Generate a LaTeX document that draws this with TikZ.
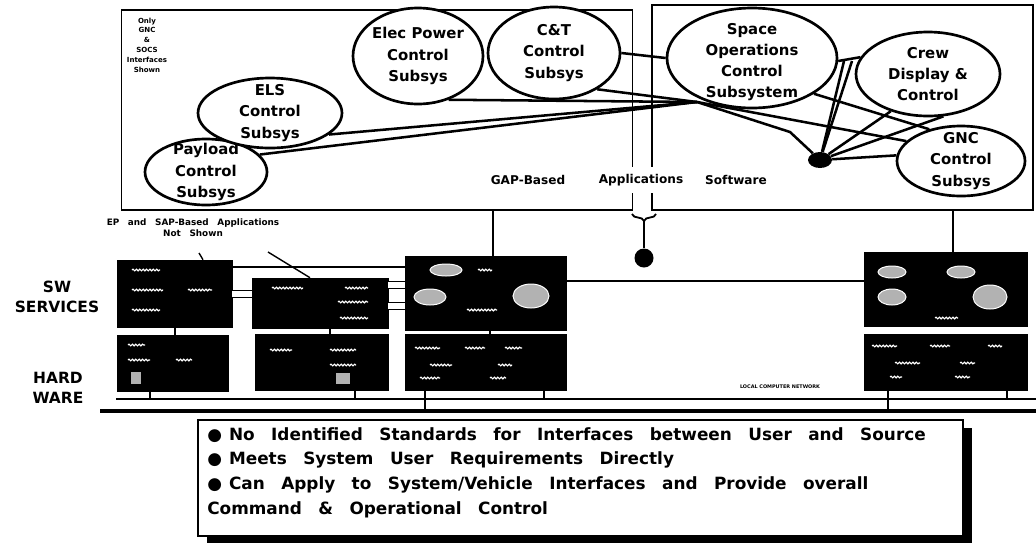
\documentclass[tikz,border=0pt]{standalone}
\usepackage{fontspec}
\setmainfont{DejaVu Sans}
\newfontfamily\notefont[WordSpace=2.8]{DejaVu Sans}
\usetikzlibrary{shapes.geometric,decorations.pathmorphing,decorations.pathreplacing}
\def\px{0.025cm}

\begin{document}
\begin{tikzpicture}[x=0.025cm, y=-0.025cm,
	subsys/.style={ellipse, draw, line width=1.9pt, fill=white, inner sep=0pt},
	subtext/.style={align=center, inner sep=0pt, font=\bfseries\fontsize{10.6}{15}\selectfont},
	link/.style={line width=1.8pt},
	frame/.style={draw, line width=1.3pt, inner sep=0pt},
	darkbox/.style={fill=black, draw=black, inner sep=0pt},
	pipe/.style={line width=0.5pt, double=white, double distance=4pt},
	wig/.style={white, line width=0.8pt, decorate, decoration={snake, amplitude=0.6pt, segment length=2.4pt}},
	blob/.style={fill=gray!60, draw=white, line width=0.7pt},
	applbl/.style={font=\bfseries\fontsize{8.6}{10}\selectfont, inner sep=1pt},
	sidelbl/.style={font=\bfseries\fontsize{11}{14}\selectfont, align=center}]
	\useasboundingbox (0,0) rectangle (1036,542);
	
	%%%%% APPLICATION LAYER %%%%%
	\node[frame, minimum width=511*\px, minimum height=200*\px] (gapbox) at (377,110) {};
	\node[frame, minimum width=381*\px, minimum height=205*\px] (rbox) at (842.5,107.5) {};
	
	\node[font=\bfseries\fontsize{5}{7}\selectfont, align=center] (onlynote) at (147,45) {Only\\GNC\\\&\\SOCS\\Interfaces\\Shown};
	
	\node[subsys, minimum width=122*\px, minimum height=66*\px, label={[subtext]center:{Payload\\Control\\Subsys}}] (payload) at (206,172) {};
	\node[subsys, minimum width=144*\px, minimum height=70*\px, label={[subtext]center:{ELS\\Control\\Subsys}}] (els) at (270,113) {};
	\node[subsys, minimum width=130*\px, minimum height=96*\px, label={[subtext]center:{Elec Power\\Control\\Subsys}}] (elec) at (418,56) {};
	\node[subsys, minimum width=132*\px, minimum height=92*\px, label={[subtext]center:{C\&T\\Control\\Subsys}}] (cnt) at (554,53) {};
	\node[subsys, minimum width=170*\px, minimum height=100*\px, label={[subtext, yshift=-3pt]center:{Space\\Operations\\Control\\Subsystem}}] (socs) at (752,58) {};
	\node[subsys, minimum width=144*\px, minimum height=84*\px, label={[subtext]center:{Crew\\Display \&\\Control}}] (crew) at (928,74) {};
	\node[subsys, minimum width=128*\px, minimum height=70*\px, label={[subtext]center:{GNC\\Control\\Subsys}}] (gnc) at (961,161) {};
	\node[ellipse, fill=black, minimum width=24*\px, minimum height=16*\px, inner sep=0pt] (hub) at (820,160) {};
	
	\coordinate (bundle) at (697,102);
	\coordinate (knee) at (790,132);
	\coordinate (jc) at (844,61);
	\coordinate (jc2) at (852,61);
	
	\draw[link] (payload.18) -- (bundle);
	\draw[link] (els.-20) -- (bundle);
	\draw[link] (elec.-55) -- (bundle);
	\draw[link] (cnt.-40) -- (bundle);
	\draw[link] (cnt.east) -- (socs.west);
	\draw[link] (bundle) -- (gnc.160);
	\draw[link] (bundle) -- (knee) -- (hub);
	\draw[link] (socs.-30) -- (gnc.135);
	\draw[link] (socs.-2) -- (crew.166);
	\draw[link] (hub) -- (jc);
	\draw[link] (hub) -- (jc2);
	\draw[link] (hub) -- (crew.225);
	\draw[link] (hub) -- (crew.-70);
	\draw[link] (hub) -- (gnc.175);
	
	\node[applbl] (gaptxt) at (528,180) {GAP-Based};
	\node[applbl, fill=white, inner ysep=5pt] (apptxt) at (641,180) {Applications};
	\node[applbl] (swtxt) at (736,180) {Software};
	
	\draw[line width=1.3pt, decorate, decoration={brace, amplitude=5pt, mirror}] (632,214) -- (656,214);
	\coordinate (bracetip) at (644,221);
	\node[circle, fill=black, minimum size=19*\px, inner sep=0pt] (gsdot) at (644,258) {};
	\draw[link] (bracetip) -- (gsdot);
	
	%%%%% SW SERVICES %%%%%
	\node[sidelbl] (swlbl) at (57,297) {SW\\SERVICES};
	\node[sidelbl] (hwlbl) at (58,388) {HARD\\WARE};
	
	\node[darkbox, minimum width=115*\px, minimum height=67*\px] (swa) at (174.5,293.5) {};
	\node[darkbox, minimum width=136*\px, minimum height=50*\px] (swb) at (320,303) {};
	\node[darkbox, minimum width=161*\px, minimum height=74*\px] (swc) at (485.5,293) {};
	\node[darkbox, minimum width=163*\px, minimum height=74*\px] (swd) at (945.5,289) {};
	
	\node[darkbox, minimum width=111*\px, minimum height=56*\px] (hwa) at (172.5,363) {};
	\node[darkbox, minimum width=133*\px, minimum height=56*\px] (hwb) at (321.5,362) {};
	\node[darkbox, minimum width=161*\px, minimum height=56*\px] (hwc) at (485.5,362) {};
	\node[darkbox, minimum width=163*\px, minimum height=56*\px] (hwd) at (945.5,362) {};
	
	\draw[line width=1pt] (gapbox.south -| 493,0) -- (swc.north -| 493,0);
	\draw[line width=1pt] (rbox.south -| 953,0) -- (swd.north -| 953,0);
	\draw[line width=1.2pt] (swa.east |- 0,267) -- (swc.west |- 0,267);
	\draw[line width=1.4pt] (swc.east |- 0,281) -- (swd.west |- 0,281);
	\draw[pipe] (swa.east |- 0,294) -- (swb.west |- 0,294);
	\draw[pipe] (swb.east |- 0,285) -- (swc.west |- 0,285);
	\draw[pipe] (swb.east |- 0,306) -- (swc.west |- 0,306);
	
	\draw[line width=1pt] (swa.south -| 175,0) -- (hwa.north -| 175,0);
	\draw[line width=1pt] (swb.south -| 330,0) -- (hwb.north -| 330,0);
	\draw[line width=1pt] (swc.south -| 490,0) -- (hwc.north -| 490,0);
	
	\node[font=\notefont\bfseries\fontsize{6.3}{8}\selectfont, align=center] (epnote) at (193,228) {EP and SAP-Based Applications\\Not Shown};
	\draw[line width=1pt] (199,253) -- (swa.north -| 203,0);
	\draw[line width=1pt] (268,252) -- (swb.north -| 310,0);
	
	% screen squiggles
	\foreach \xa/\xb/\yy in {132/160/270, 132/163/290, 188/212/290, 132/160/310,
		272/303/288, 345/368/288, 338/368/302, 340/368/318,
		478/492/270, 467/497/310, 935/958/318,
		128/145/345, 128/150/360, 176/192/360,
		270/292/350, 330/356/350, 330/356/365,
		415/440/348, 465/485/348, 505/522/348, 430/452/365, 498/512/365, 420/440/378, 490/506/378,
		872/897/346, 930/950/346, 988/1002/346, 895/920/363, 960/975/363, 890/902/377, 955/970/377}
		\draw[wig] (\xa,\yy) -- (\xb,\yy);
	\foreach \bx/\by/\ra/\rb in {446/270/16/6, 430/297/16/8, 531/296/18/12, 892/272/14/6, 961/272/14/6, 892/297/14/8, 990/297/17/12}
		\draw[blob] (\bx,\by) ellipse [x radius=\ra, y radius=\rb];
	\fill[gray!60] (131,372) rectangle (141,384);
	\fill[gray!60] (336,373) rectangle (350,384);
	
	%%%%% HARDWARE BUS %%%%%
	\draw[line width=0.9pt] (116,399) -- (1036,399);
	\draw[line width=2.6pt] (100,411) -- (1036,411);
	\draw[line width=1pt] (hwa.south -| 150,0) -- (150,399);
	\draw[line width=1pt] (hwb.south -| 355,0) -- (355,399);
	\draw[line width=1.4pt] (hwc.south -| 425,0) -- (425,411);
	\draw[line width=1pt] (hwc.south -| 544,0) -- (544,399);
	\draw[line width=1.4pt] (hwd.south -| 888,0) -- (888,411);
	\draw[line width=1pt] (hwd.south -| 1007,0) -- (1007,399);
	\node[font=\bfseries\fontsize{3.5}{4}\selectfont] (lcn) at (780,387) {LOCAL COMPUTER NETWORK};
	
	%%%%% NOTES %%%%%
	\fill (207,428) rectangle (972,545);
	\node[draw, line width=1.2pt, fill=white, minimum width=765*\px, minimum height=116*\px, inner sep=0pt] (notebox) at (580.5,478) {};
	\node[anchor=north west, align=left, inner sep=0pt, font=\notefont\bfseries\fontsize{12}{17.6}\selectfont] (notes) at (207,427) {{\symbol{"25CF}}\hspace{5pt}No Identified Standards for Interfaces between User and Source\\
		{\symbol{"25CF}}\hspace{5pt}Meets System User Requirements Directly\\
		{\symbol{"25CF}}\hspace{5pt}Can Apply to System/Vehicle Interfaces and Provide overall\\
		Command \& Operational Control};
\end{tikzpicture}
\end{document}
